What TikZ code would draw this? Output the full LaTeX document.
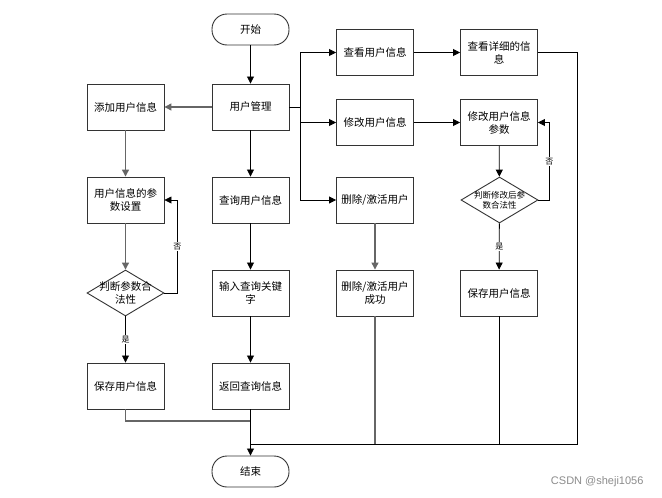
\documentclass[tikz,border=0pt]{standalone}
\usepackage{fontspec}
\newfontfamily\cjk{Noto Sans CJK SC}
\usetikzlibrary{arrows.meta,shapes.geometric,calc}
\begin{document}
\begin{tikzpicture}[x=1pt,y=-1pt,
  every node/.style={font=\cjk\fontsize{10.5}{13}\selectfont},
  box/.style={draw=black!80,line width=0.9pt,fill=white,minimum width=77pt,minimum height=46pt,inner sep=1pt,align=center},
  term/.style={draw=black!80,line width=0.9pt,fill=white,rounded corners=15pt,minimum width=77pt,minimum height=31pt,inner sep=1pt},
  dia/.style={draw=black!80,line width=0.9pt,fill=white,diamond,minimum width=77pt,minimum height=46pt,inner sep=0pt},
  diatext/.style={align=center,inner sep=0pt},
  arr/.style={-{Triangle[length=7pt,width=7pt]},line width=0.8pt},
  ln/.style={line width=0.8pt},
  gr/.style={draw=black!60,line width=1.2pt},
  lbl/.style={font=\cjk\fontsize{8}{9}\selectfont,fill=white,inner sep=1pt}
]
\useasboundingbox (0,0) rectangle (662,498);
\fill[white] (0,0) rectangle (662,498);

\node[term] (start) at (250.5,29.5) {开始};
\node[box] (um) at (250.5,107) {用户管理};
\node[box] (add) at (125.5,107) {添加用户信息};
\node[box] (set) at (125.5,200) {用户信息的参\\数设置};
\node[dia] (d1) at (125.5,293) {};
\node[diatext] (d1t) at (d1.center) {判断参数合\\法性};
\node[box] (save1) at (125.5,386) {保存用户信息};
\node[box] (q) at (250.5,200) {查询用户信息};
\node[box] (kw) at (250.5,293) {输入查询关键\\字};
\node[box] (ret) at (250.5,386) {返回查询信息};
\node[term] (end) at (250.5,471.5) {结束};
\node[box] (view) at (375,52.5) {查看用户信息};
\node[box] (detail) at (499,52.5) {查看详细的信\\息};
\node[box] (mod) at (375,122.5) {修改用户信息};
\node[box] (modp) at (499,122.5) {修改用户信息\\参数};
\node[box] (del) at (375,200) {删除/激活用户};
\node[dia] (d2) at (499.5,200) {};
\node[diatext,font=\cjk\fontsize{8.5}{10}\selectfont] (d2t) at (d2.center) {判断修改后参\\数合法性};
\node[box] (delok) at (375,293) {删除/激活用户\\成功};
\node[box] (save2) at (499,293) {保存用户信息};

\coordinate (bus) at (300,107);
\coordinate (j1) at (250.5,421);
\coordinate (j2) at (250.5,444);
\coordinate (rc) at (577,444);

\draw[arr] (start) -- (um);
\draw[arr,gr] (um) -- (add);
\draw[arr,gr] (add) -- (set);
\draw[arr,gr] (set) -- (d1);
\draw[arr] (d1.east) -- ++(13,0) |- (set.east) node[lbl,pos=0.25] {否};
\draw[arr] (d1) -- node[lbl] {是} (save1);
\draw[ln,gr] (save1.south) |- (j1);
\draw[arr] (um) -- (q);
\draw[arr] (q) -- (kw);
\draw[arr] (kw) -- (ret);
\draw[arr] (ret) -- (end);

\draw[ln] (um.east) -- (bus);
\draw[ln] (bus |- view) -- (bus |- del);
\draw[arr] (bus |- view) -- (view);
\draw[arr] (bus |- mod) -- (mod);
\draw[arr] (bus |- del) -- (del);
\draw[arr] (view) -- (detail);
\draw[arr] (mod) -- (modp);
\draw[arr,gr] (del) -- (delok);
\draw[arr] (modp) -- (d2);
\draw[arr] (d2.east) -- ++(11,0) |- (modp.east) node[lbl,pos=0.25] {否};
\draw[arr] (d2) -- node[lbl] {是} (save2);

\draw[ln] (detail.east) -| (rc) -- (j2);
\draw[ln,gr] (delok.south) -- (delok.south |- j2);
\draw[ln] (save2.south) -- (save2.south |- j2);

\node[anchor=east,text=black!45,font=\fontspec{Liberation Sans}\fontsize{11}{13}\selectfont] (wm) at (647,482) {CSDN @sheji1056};
\end{tikzpicture}
\end{document}
